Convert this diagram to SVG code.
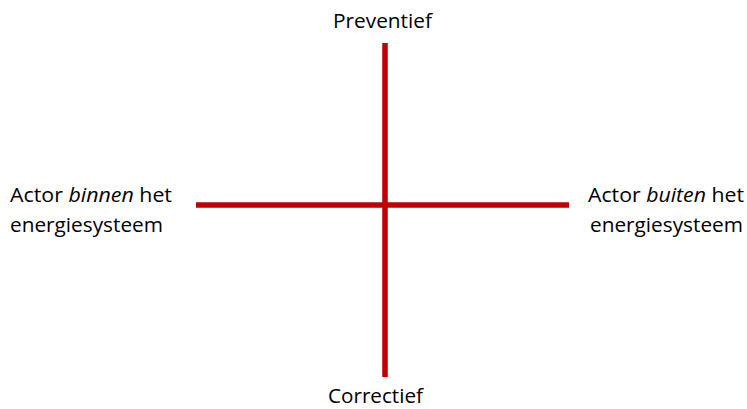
<svg xmlns="http://www.w3.org/2000/svg" width="747" height="409" viewBox="0 0 747 409">
<style>
.ax{stroke:#C00000;stroke-width:5.5;fill:none}
.t{font-family:"Open Sans","Liberation Sans",sans-serif;font-size:20px;fill:#000}
</style>
<rect width="747" height="409" fill="#fff"/>
<g id="connectors">
<line class="ax" x1="385" y1="43" x2="385" y2="377"/>
<line class="ax" x1="196" y1="205" x2="569" y2="205"/>
</g>
<g id="top"><text class="t" x="333" y="28" textLength="99" lengthAdjust="spacingAndGlyphs">Preventief</text></g>
<g id="bottom"><text class="t" x="328" y="403" textLength="95" lengthAdjust="spacingAndGlyphs">Correctief</text></g>
<g id="left">
<text class="t" x="10" y="201.5" textLength="162" lengthAdjust="spacingAndGlyphs">Actor <tspan font-style="italic">binnen</tspan> het</text>
<text class="t" x="10" y="231.5" textLength="153" lengthAdjust="spacingAndGlyphs">energiesysteem</text>
</g>
<g id="right">
<text class="t" x="588" y="201.5" textLength="156" lengthAdjust="spacingAndGlyphs">Actor <tspan font-style="italic">buiten</tspan> het</text>
<text class="t" x="590" y="231.5" textLength="153" lengthAdjust="spacingAndGlyphs">energiesysteem</text>
</g>
</svg>
